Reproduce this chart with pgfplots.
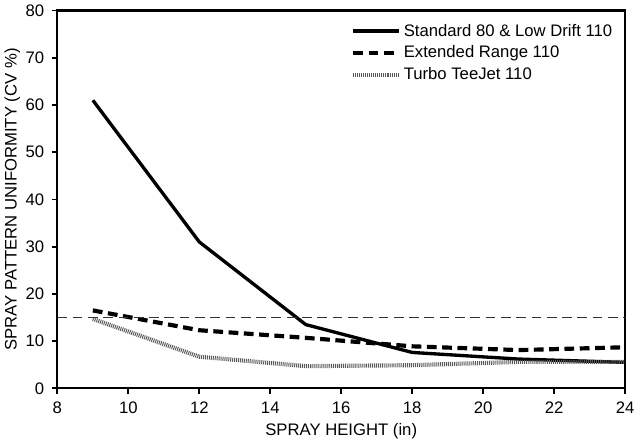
\documentclass[border=0pt]{standalone}
\usepackage{fontspec}
\setmainfont{Liberation Sans}
\usepackage{pgfplots}
\pgfplotsset{compat=1.18}
\begin{document}
\begin{tikzpicture}
\begin{axis}[
  scale only axis,
  width=14.35cm, height=9.55cm,
  xmin=8, xmax=24, ymin=0, ymax=80,
  xtick={8,10,...,24}, ytick={0,10,...,80},
  tick align=outside, tick pos=left,
  major tick length=4pt,
  axis line style={line width=1.6pt},
  every tick/.style={line width=1.3pt, black},
  /pgf/number format/assume math mode=true,
  tick label style={font=\large},
  xticklabel style={yshift=-2pt},
  yticklabel style={xshift=-2pt},
  label style={font=\large},
  xlabel={SPRAY HEIGHT (in)},
  ylabel={SPRAY PATTERN UNIFORMITY (CV \%)},
  xlabel style={yshift=0pt},
  ylabel style={yshift=-3pt},
  legend style={draw=none, fill=none, at={(0.51,0.98)}, anchor=north west, font=\large, row sep=1.5pt, legend cell align=left},
  legend image code/.code={\draw[#1] (0cm,0cm) -- (1.15cm,0cm);},
]
\addplot[black, line width=2.4pt] coordinates {(9,61) (12,31) (15,13.5) (18,7.6) (21,6.2) (24,5.5)};
\addlegendentry{Standard 80 \& Low Drift 110}
\addplot[black, line width=3pt, dash pattern=on 7pt off 4pt] coordinates {(9,16.5) (12,12.3) (15,10.7) (18,8.9) (21,8.1) (24,8.7)};
\addlegendentry{Extended Range 110}
\addplot[black!65, line width=3pt, dash pattern=on 0.7pt off 0.7pt] coordinates {(9,14.7) (12,6.7) (15,4.7) (18,4.9) (21,5.6) (24,5.6)};
\addlegendentry{Turbo TeeJet 110}
\addplot[black!80, line width=0.8pt, dash pattern=on 7pt off 4pt, forget plot] coordinates {(8,15) (24,15)};
\end{axis}
\end{tikzpicture}
\end{document}
